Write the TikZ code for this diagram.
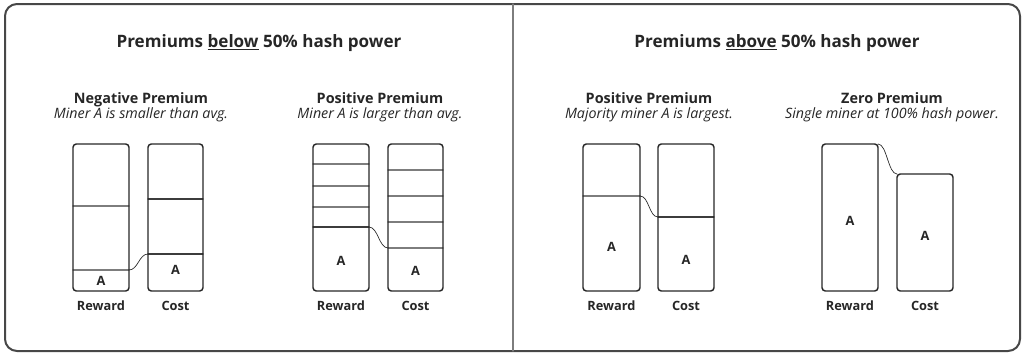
\documentclass[tikz,border=0pt]{standalone}
\usepackage{fontspec}
\setmainfont{Open Sans}
\usepackage{xcolor}
\usepackage{tikz}
\definecolor{ink}{HTML}{262626}

\begin{document}
\begin{tikzpicture}[line cap=round,line join=round,x=0.75pt,y=-0.75pt,
		bar/.style={draw=ink,line width=1.1pt,rounded corners=2.5pt},
		sep/.style={draw=ink!60,line width=0.9pt},
		cut/.style={draw=ink!90,line width=0.8pt},
		link/.style={draw=ink,line width=0.5pt},
		ttl/.style={anchor=base,font=\bfseries\fontsize{12.8}{15}\selectfont,text=ink},
		hd/.style={anchor=base,font=\bfseries\fontsize{10.8}{12}\selectfont,text=ink},
		sub/.style={anchor=base,font=\itshape\fontsize{10.7}{12}\selectfont,text=ink},
		lbl/.style={font=\bfseries\fontsize{9.6}{11}\selectfont,text=ink},
		foot/.style={lbl,anchor=base}]
		\useasboundingbox (0,0) rectangle (1024,354);
		% frame and divider
		\draw [draw=ink!85,line width=1.5pt,rounded corners=9pt] (5,4) rectangle (1020,351);
		\draw [draw=ink!60,line width=0.8pt] (513,4)-- (513,351);
		% titles
		\node[ttl] (tleft) at (259,47.5) {Premiums \underline{below} 50\% hash power};
		\node[ttl] (tright) at (777,47.5) {Premiums \underline{above} 50\% hash power};
		\node[hd] (h1) at (141,103) {Negative Premium};
		\node[sub] (s1) at (141,118.5) {Miner A is smaller than avg.};
		\node[hd] (h2) at (380,103) {Positive Premium};
		\node[sub] (s2) at (380,118.5) {Miner A is larger than avg.};
		\node[hd] (h3) at (649,103) {Positive Premium};
		\node[sub] (s3) at (649,118.5) {Majority miner A is largest.};
		\node[hd] (h4) at (892,103) {Zero Premium};
		\node[sub] (s4) at (892,118.5) {Single miner at 100\% hash power.};
		% negative premium
		\draw [sep] (73,206)-- (129,206);
		\draw [sep] (73,270)-- (129,270);
		\draw [cut] (148,199)-- (203,199);
		\draw [cut] (148,254)-- (203,254);
		\draw [bar] (73,144) rectangle (129,291);
		\draw [bar] (148,144) rectangle (203,291);
		\coordinate (r1) at (129,270);
		\coordinate (c1) at (148,254);
		\draw [link] (r1) .. controls +(9,0) and +(-9,0) .. (c1);
		\node[lbl] (ra1) at (101,281) {A};
		\node[lbl] (ca1) at (175.5,270) {A};
		\node[foot] (rw1) at (101,310) {Reward};
		\node[foot] (cs1) at (175.5,310) {Cost};
		% positive premium, below 50%
		\foreach \y in {164,186,207}
			\draw [sep] (313,\y)-- (369,\y);
		\draw [cut] (313,227)-- (369,227);
		\foreach \y in {170,196,222,248}
			\draw [sep] (388,\y)-- (443,\y);
		\draw [bar] (313,144) rectangle (369,291);
		\draw [bar] (388,144) rectangle (443,291);
		\coordinate (r2) at (369,227);
		\coordinate (c2) at (388,248);
		\draw [link] (r2) .. controls +(9,0) and +(-9,0) .. (c2);
		\node[lbl] (ra2) at (341,261) {A};
		\node[lbl] (ca2) at (415.5,271) {A};
		\node[foot] (rw2) at (341,310) {Reward};
		\node[foot] (cs2) at (415.5,310) {Cost};
		% positive premium, above 50%
		\draw [sep] (583,196)-- (640,196);
		\draw [cut] (658,217)-- (714,217);
		\draw [bar] (583,144) rectangle (640,291);
		\draw [bar] (658,144) rectangle (714,291);
		\coordinate (r3) at (640,196);
		\coordinate (c3) at (658,217);
		\draw [link] (r3) .. controls +(9,0) and +(-9,0) .. (c3);
		\node[lbl] (ra3) at (611.5,247) {A};
		\node[lbl] (ca3) at (686,260) {A};
		\node[foot] (rw3) at (611.5,310) {Reward};
		\node[foot] (cs3) at (686,310) {Cost};
		% zero premium
		\draw [bar] (822,144) rectangle (878,291);
		\draw [bar] (897,174) rectangle (953,291);
		\coordinate (r4) at (878,144);
		\coordinate (c4) at (897,174);
		\draw [link] (r4) .. controls +(9,0) and +(-9,0) .. (c4);
		\node[lbl] (ra4) at (850,221) {A};
		\node[lbl] (ca4) at (925,236) {A};
		\node[foot] (rw4) at (850,310) {Reward};
		\node[foot] (cs4) at (925,310) {Cost};
	\end{tikzpicture}
\end{document}
